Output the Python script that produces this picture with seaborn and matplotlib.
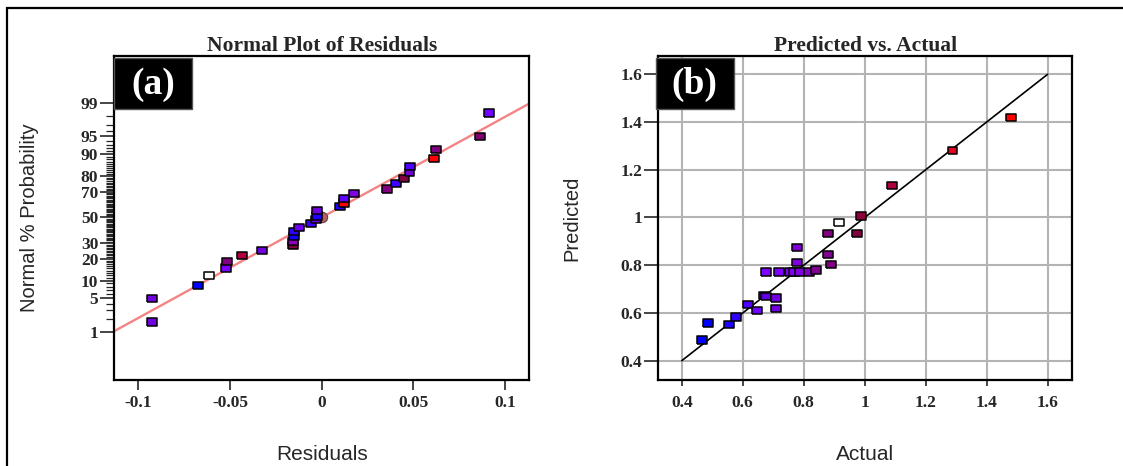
import matplotlib
matplotlib.use("Agg")
import matplotlib.pyplot as plt
from matplotlib.patches import Rectangle
import pandas as pd
import seaborn as sns
from statistics import NormalDist

# -----------------------------
# Data: (a) normal plot of residuals
# -----------------------------
residuals = [-0.0924, -0.0924, -0.0673, -0.0613, -0.0523, -0.0515, -0.0436, -0.0324,
             -0.0156, -0.0156, -0.0153, -0.0153, -0.0124, -0.0058, -0.0033, -0.0027,
             -0.0024, 0.0098, 0.0120, 0.0122, 0.0178, 0.0354, 0.0403, 0.0449,
             0.0478, 0.0481, 0.0612, 0.0622, 0.0863, 0.0911]
normal_prob = [1.7, 5.0, 8.4, 12.0, 15.2, 18.6, 21.8, 25.1, 28.5, 31.0, 34.7, 38.5,
               42.0, 45.2, 48.4, 51.1, 55.3, 58.5, 61.6, 65.0, 68.4, 71.7, 75.2,
               78.6, 81.7, 85.0, 88.4, 91.6, 95.0, 98.3]
resid_colors = ["#7000e0", "#7000e0", "#0000ff", "#ffffff", "#8000ff", "#800080",
                "#b00040", "#7000e0", "#800040", "#9000c0", "#1000ff", "#3000ff",
                "#7000f0", "#4000ff", "#7000e0", "#2000ff", "#7000e0", "#2000ff",
                "#ff0000", "#6000ff", "#8000e0", "#800080", "#4000ff", "#800040",
                "#7000d0", "#5000ff", "#ff0000", "#800080", "#800070", "#7000ff"]
center_resid = [0.0]
center_prob = [50.0]
fit_mean = 0.0
fit_sd = 0.049

prob_ticks = [1, 5, 10, 20, 30, 50, 70, 80, 90, 95, 99]
resid_ticks = [-0.1, -0.05, 0, 0.05, 0.1]
resid_labels = ["-0.1", "-0.05", "0", "0.05", "0.1"]

# -----------------------------
# Data: (b) predicted vs actual
# -----------------------------
actual = [0.467, 0.487, 0.556, 0.577, 0.617, 0.648, 0.670, 0.676, 0.708, 0.708,
          0.677, 0.718, 0.755, 0.769, 0.786, 0.779, 0.779, 0.818, 0.840, 0.879,
          0.890, 0.879, 0.917, 0.976, 0.987, 1.090, 1.288, 1.479]
predicted = [0.486, 0.558, 0.551, 0.583, 0.636, 0.611, 0.674, 0.668, 0.663, 0.619,
             0.772, 0.772, 0.772, 0.772, 0.772, 0.811, 0.873, 0.772, 0.780, 0.846,
             0.804, 0.932, 0.980, 0.932, 1.007, 1.135, 1.280, 1.418]
pred_colors = ["#0000ff", "#0000ff", "#2000ff", "#3000ff", "#5000ff", "#7000ff",
               "#6000e0", "#6000e0", "#7000e0", "#7000e0", "#8000ff", "#8000ff",
               "#8000f0", "#8000f0", "#8000e0", "#8000e0", "#8000d0", "#8000c0",
               "#800090", "#800090", "#800080", "#800080", "#ffffff", "#800040",
               "#900040", "#b00040", "#e00020", "#ff0000"]
ref_line = [0.4, 1.6]
ab_ticks = [0.4, 0.6, 0.8, 1.0, 1.2, 1.4, 1.6]
ab_labels = ["0.4", "0.6", "0.8", "1", "1.2", "1.4", "1.6"]

# -----------------------------
# Style
# -----------------------------
sns.set_style("ticks")
plt.rcParams["font.family"] = ["Liberation Sans", "DejaVu Sans"]
serif = ["Liberation Serif", "DejaVu Serif"]
sans = ["Liberation Sans", "DejaVu Sans"]

rect_marker = [(-1, -0.75), (1, -0.75), (1, 0.75), (-1, 0.75), (-1, -0.75)]
nd = NormalDist()

W, H = 1123, 466
fig = plt.figure(figsize=(W / 100, H / 100), dpi=100)
ax_a = fig.add_axes([114.3 / W, 1 - 380 / H, 414.7 / W, 324.3 / H])
ax_b = fig.add_axes([658.3 / W, 1 - 380 / H, 414 / W, 324.3 / H])

# outer frame (only top/left edges fall inside the image)
fig.add_artist(Rectangle((7 / W, -0.1), 1.2, 1.1 - 8 / H, transform=fig.transFigure,
                         fill=False, edgecolor="black", lw=1.6))

# -----------------------------
# (a) Normal plot of residuals
# -----------------------------
df_a = pd.DataFrame({"resid": residuals,
                     "z": [nd.inv_cdf(p / 100) for p in normal_prob],
                     "color": resid_colors})
xlim_a = (-0.1131, 0.1130)
ax_a.plot(xlim_a, [(x - fit_mean) / fit_sd for x in xlim_a], color="#f48484", lw=1.7, zorder=1)
sns.scatterplot(x=center_resid, y=[nd.inv_cdf(p / 100) for p in center_prob], ax=ax_a,
                marker="o", s=55, color="#b86060", edgecolor="#604040", linewidth=0.8,
                legend=False, zorder=2)
sns.scatterplot(data=df_a, x="resid", y="z", hue="color",
                palette={c: c for c in resid_colors}, marker=rect_marker, s=50,
                edgecolor="black", linewidth=1.1, legend=False, ax=ax_a, zorder=3)
ax_a.set_xlim(xlim_a)
ax_a.set_ylim(-3.30, 3.28)
ax_a.set_xticks(resid_ticks)
ax_a.set_xticklabels(resid_labels)
ax_a.set_yticks([nd.inv_cdf(p / 100) for p in prob_ticks])
ax_a.set_yticklabels([str(p) for p in prob_ticks])
ax_a.set_yticks([nd.inv_cdf(p / 100) for p in range(1, 100) if p not in prob_ticks], minor=True)
ax_a.tick_params(axis="y", which="major", length=10, width=1.2, pad=1.5)
ax_a.tick_params(axis="y", which="minor", length=5.5, width=0.9)
ax_a.tick_params(axis="x", which="major", length=7, width=1.2, pad=4)
ax_a.set_title("Normal Plot of Residuals", family=serif, fontweight="bold", fontsize=15.5, pad=3)
ax_a.set_xlabel("Residuals", family=sans, fontsize=15)
ax_a.set_ylabel("Normal % Probability", family=sans, fontsize=14.5)
ax_a.xaxis.set_label_coords(0.5, -0.20)
ax_a.yaxis.set_label_coords(-0.182, 0.5)

# -----------------------------
# (b) Predicted vs. Actual
# -----------------------------
df_b = pd.DataFrame({"actual": actual, "predicted": predicted, "color": pred_colors})
ax_b.set_axisbelow(True)
ax_b.grid(True, color="#b4b4b4", lw=1.5)
ax_b.plot(ref_line, ref_line, color="black", lw=1.2, zorder=2)
sns.scatterplot(data=df_b, x="actual", y="predicted", hue="color",
                palette={c: c for c in pred_colors}, marker=rect_marker, s=50,
                edgecolor="black", linewidth=1.1, legend=False, ax=ax_b, zorder=3)
ax_b.set_xlim(0.323, 1.681)
ax_b.set_ylim(0.319, 1.678)
ax_b.set_xticks(ab_ticks)
ax_b.set_xticklabels(ab_labels)
ax_b.set_yticks(ab_ticks)
ax_b.set_yticklabels(ab_labels)
ax_b.tick_params(axis="y", length=10, width=1.2, pad=1.5)
ax_b.tick_params(axis="x", length=4, width=1.2, pad=7)
ax_b.set_title("Predicted vs. Actual", family=serif, fontweight="bold", fontsize=15.5, pad=3)
ax_b.set_xlabel("Actual", family=sans, fontsize=15)
ax_b.set_ylabel("Predicted", family=sans, fontsize=14.5)
ax_b.xaxis.set_label_coords(0.5, -0.20)
ax_b.yaxis.set_label_coords(-0.187, 0.5)

# common styling
for ax, tag, x0 in [(ax_a, "(a)", 0.0), (ax_b, "(b)", -0.006)]:
    for sp in ax.spines.values():
        sp.set_linewidth(1.6)
        sp.set_color("black")
        sp.set_visible(True)
    for lab in ax.get_xticklabels() + ax.get_yticklabels():
        lab.set_family(serif)
        lab.set_fontweight("bold")
        lab.set_fontsize(12.5)
    ax.add_patch(Rectangle((x0, 0.836), 0.188, 0.157, transform=ax.transAxes,
                           facecolor="black", edgecolor="#555555", lw=1.0,
                           clip_on=False, zorder=5))
    ax.text(x0 + 0.094, 0.910, tag, transform=ax.transAxes, ha="center", va="center",
            color="white", family=serif, fontweight="bold", fontsize=27, zorder=6)

fig.savefig("out.png", dpi=100)
